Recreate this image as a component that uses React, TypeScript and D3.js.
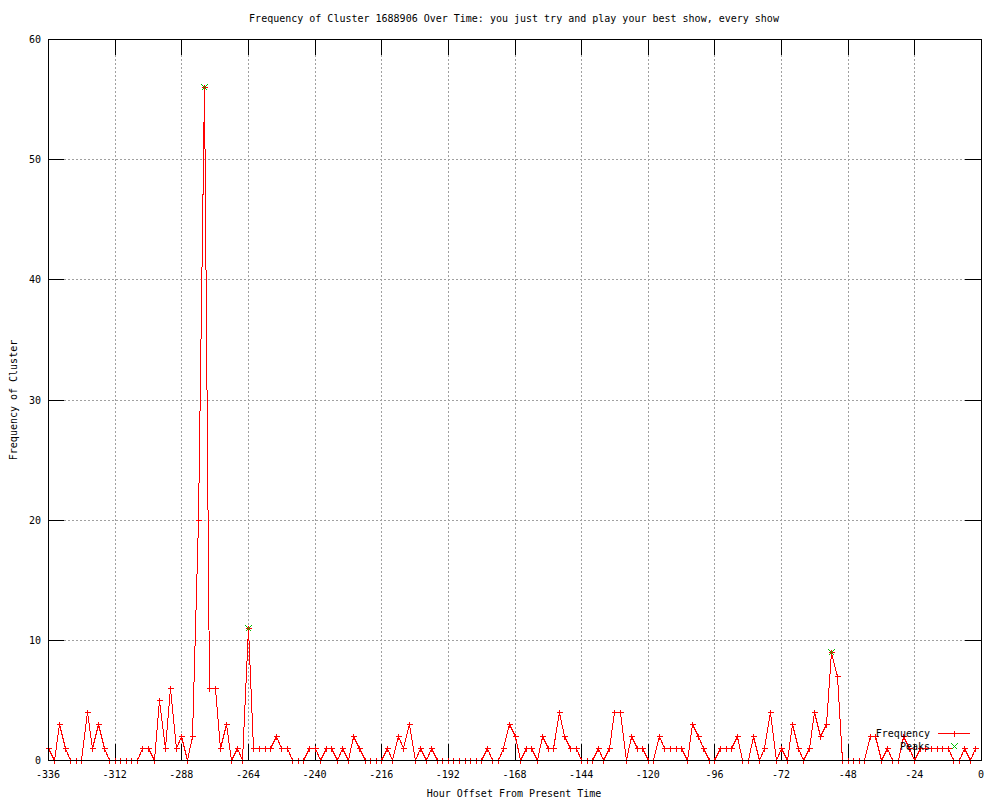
import React from 'react';
import * as d3 from 'd3';

// Hour offsets (every 2 hours) from -336 to -2
const hours: number[] = d3.range(-336, 0, 2);

// Frequency values, one per hour offset above
const frequency: number[] = [
  1, 0, 3, 1, 0, 0, 0, 4, 1, 3,
  1, 0, 0, 0, 0, 0, 0, 1, 1, 0,
  5, 1, 6, 1, 2, 0, 2, 20, 56, 6,
  6, 1, 3, 0, 1, 0, 11, 1, 1, 1,
  1, 2, 1, 1, 0, 0, 0, 1, 1, 0,
  1, 1, 0, 1, 0, 2, 1, 0, 0, 0,
  0, 1, 0, 2, 1, 3, 0, 1, 0, 1,
  0, 0, 0, 0, 0, 0, 0, 0, 0, 1,
  0, 0, 1, 3, 2, 0, 1, 1, 0, 2,
  1, 1, 4, 2, 1, 1, 0, 0, 0, 1,
  0, 1, 4, 4, 0, 2, 1, 1, 0, 0,
  2, 1, 1, 1, 1, 0, 3, 2, 1, 0,
  0, 1, 1, 1, 2, 0, 0, 2, 0, 1,
  4, 0, 1, 0, 3, 1, 0, 1, 4, 2,
  3, 9, 7, 0, 0, 0, 0, 0, 2, 2,
  0, 1, 0, 0, 2, 1, 0, 1, 1, 1,
  1, 1, 1, 0, 0, 1, 0, 1,
];

const peakHours: number[] = [-280, -264, -54];
const peakValues: number[] = [56, 11, 9];

const xTicks: number[] = [-336, -312, -288, -264, -240, -216, -192, -168, -144, -120, -96, -72, -48, -24, 0];
const yTicks: number[] = [0, 10, 20, 30, 40, 50, 60];

const titleText = 'Frequency of Cluster 1688906 Over Time: you just try and play your best show, every show';
const xLabel = 'Hour Offset From Present Time';
const yLabel = 'Frequency of Cluster';
const legendNames = ['Frequency', 'Peaks'];

const W = 1000;
const H = 800;
const L = 48;
const R = 981;
const T = 39;
const B = 760;
const TICK = 16;
const FONT = '"DejaVu Sans Mono", "Liberation Mono", monospace';
const RED = '#ff0000';
const GREEN = '#00c000';

function crossPath(x: number, y: number, s = 3) {
  const px = Math.round(x) + 0.5;
  const py = Math.round(y) + 0.5;
  return `M${px - s},${py}H${px + s}M${px},${py - s}V${py + s}`;
}
function xPath(x: number, y: number, s = 3) {
  const px = Math.round(x) + 0.5;
  const py = Math.round(y) + 0.5;
  return `M${px - s},${py - s}L${px + s},${py + s}M${px - s},${py + s}L${px + s},${py - s}`;
}

export default function App() {
  const x = d3.scaleLinear().domain([-336, 0]).range([L, R]);
  const y = d3.scaleLinear().domain([0, 60]).range([B, T]);
  const pts: [number, number][] = hours.map((h, i) => [x(h), y(frequency[i])]);
  const line = d3.line<[number, number]>().x((d) => Math.round(d[0]) + 0.5).y((d) => Math.round(d[1]) + 0.5);

  const snap = (v: number) => Math.round(v) + 0.5;

  return (
    <svg
      width={W}
      height={H}
      style={{ position: 'absolute', left: 0, top: 0, background: '#fff' }}
      fontFamily={FONT}
      fontSize={10}
    >
      <rect x={0} y={0} width={W} height={H} fill="#fff" />
      {/* grid */}
      <g stroke="#a0a0a0" strokeWidth={1} strokeDasharray="2,2" shapeRendering="crispEdges">
        {xTicks.filter((t) => t !== -336 && t !== 0).map((t) => (
          <line key={'gx' + t} x1={snap(x(t))} x2={snap(x(t))} y1={T} y2={B} />
        ))}
        {yTicks.filter((t) => t !== 0 && t !== 60).map((t) => (
          <line key={'gy' + t} x1={L} x2={R} y1={snap(y(t))} y2={snap(y(t))} />
        ))}
      </g>
      {/* ticks */}
      <g stroke="#000" strokeWidth={1} shapeRendering="crispEdges">
        {xTicks.map((t) => (
          <g key={'tx' + t}>
            <line x1={snap(x(t))} x2={snap(x(t))} y1={B} y2={B - TICK} />
            <line x1={snap(x(t))} x2={snap(x(t))} y1={T} y2={T + TICK} />
          </g>
        ))}
        {yTicks.map((t) => (
          <g key={'ty' + t}>
            <line x1={L} x2={L + TICK} y1={snap(y(t))} y2={snap(y(t))} />
            <line x1={R} x2={R - TICK} y1={snap(y(t))} y2={snap(y(t))} />
          </g>
        ))}
      </g>
      {/* tick labels */}
      <g fill="#000">
        {xTicks.map((t) => (
          <text key={'lx' + t} x={x(t)} y={B + 18} textAnchor="middle">{t}</text>
        ))}
        {yTicks.map((t) => (
          <text key={'ly' + t} x={L - 7} y={y(t) + 4} textAnchor="end">{t}</text>
        ))}
      </g>
      {/* data line */}
      <path d={line(pts) || ''} fill="none" stroke={RED} strokeWidth={1} shapeRendering="crispEdges" />
      <path d={pts.map((p) => crossPath(p[0], p[1])).join('')} fill="none" stroke={RED} strokeWidth={1} shapeRendering="crispEdges" />
      {/* peaks */}
      <path
        d={peakHours.map((h, i) => xPath(x(h), y(peakValues[i]))).join('')}
        fill="none"
        stroke={GREEN}
        strokeWidth={1}
        shapeRendering="crispEdges"
      />
      {/* border */}
      <rect x={L + 0.5} y={T + 0.5} width={R - L} height={B - T} fill="none" stroke="#000" strokeWidth={1} shapeRendering="crispEdges" />
      {/* legend */}
      <g>
        <text x={930} y={737} textAnchor="end" fill="#000">{legendNames[0]}</text>
        <line x1={938} x2={970} y1={733.5} y2={733.5} stroke={RED} strokeWidth={1} shapeRendering="crispEdges" />
        <path d={crossPath(954, 733)} stroke={RED} fill="none" shapeRendering="crispEdges" />
        <text x={930} y={750} textAnchor="end" fill="#000">{legendNames[1]}</text>
        <path d={xPath(954, 746)} stroke={GREEN} fill="none" shapeRendering="crispEdges" />
      </g>
      {/* titles */}
      <text x={514} y={22} textAnchor="middle" fill="#000">{titleText}</text>
      <text x={514} y={797} textAnchor="middle" fill="#000">{xLabel}</text>
      <text transform={`translate(17,400) rotate(-90)`} textAnchor="middle" fill="#000">{yLabel}</text>
    </svg>
  );
}
